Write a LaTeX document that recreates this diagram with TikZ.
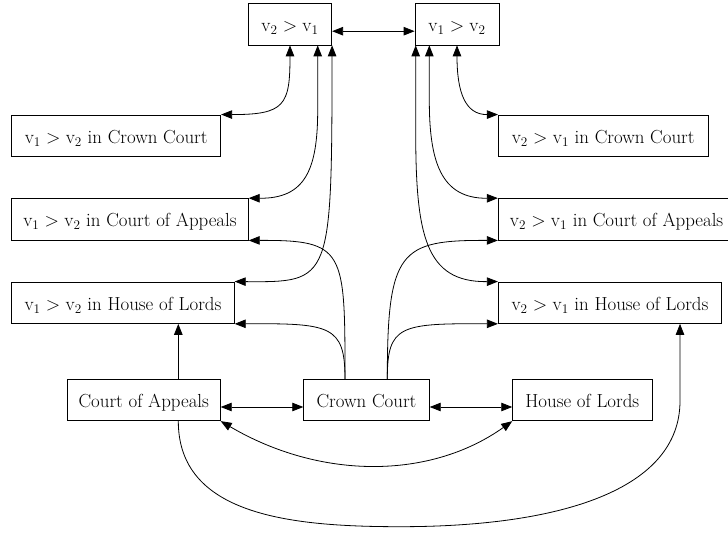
\RequirePackage{fix-cm}
\documentclass[tikz,border=0pt]{standalone}
\usetikzlibrary{arrows.meta}
\begin{document}
\tikzset{
  box/.style={draw, line width=0.8pt, minimum height=41.5pt, inner sep=0pt,
    text height=15pt, text depth=0pt, font=\fontsize{18.9}{22}\selectfont},
  conn/.style={line width=0.8pt},
  one/.style={conn, -{Triangle[length=11pt,width=8.5pt]}},
  two/.style={conn, {Triangle[length=11pt,width=8.5pt]}-{Triangle[length=11pt,width=8.5pt]}},
}
\begin{tikzpicture}[x=1pt,y=-1pt]
\useasboundingbox (0,0) rectangle (728,534);
% top
\node[box,minimum width=83.4pt] (t21) at (290,24.2) {$\mathrm{v}_2 > \mathrm{v}_1$};
\node[box,minimum width=84pt] (t12) at (457,24.2) {$\mathrm{v}_1 > \mathrm{v}_2$};
% left column
\node[box,minimum width=209pt] (lcc) at (116.2,135.7) {$\mathrm{v}_1 > \mathrm{v}_2$ in Crown Court};
\node[box,minimum width=236.6pt] (lca) at (130,219.3) {$\mathrm{v}_1 > \mathrm{v}_2$ in Court of Appeals};
\node[box,minimum width=222.6pt] (lhl) at (123,302.7) {$\mathrm{v}_1 > \mathrm{v}_2$ in House of Lords};
% right column
\node[box,minimum width=209.7pt] (rcc) at (603.2,135.7) {$\mathrm{v}_2 > \mathrm{v}_1$ in Crown Court};
\node[box,minimum width=236.7pt] (rca) at (616.6,219.3) {$\mathrm{v}_2 > \mathrm{v}_1$ in Court of Appeals};
\node[box,minimum width=223.4pt] (rhl) at (610,302.7) {$\mathrm{v}_2 > \mathrm{v}_1$ in House of Lords};
% bottom row
\node[box,minimum width=153pt] (coa) at (143.8,400) {Court of Appeals};
\node[box,minimum width=125.6pt] (crc) at (366.5,400) {Crown Court};
\node[box,minimum width=139.3pt] (hol) at (582.3,400) {House of Lords};

\coordinate (cu) at ([xshift=34.5pt]coa.north);
\coordinate (bmid) at (400,526.7);
\coordinate (rup) at ([xshift=70pt,yshift=-77pt]rhl.south);

% top connectors
\draw[two] ([yshift=-7pt]t21.east) -- ([yshift=-7pt]t12.west);
\draw[two] (lcc.north east) .. controls (285,114.7) and (290,105) .. (t21.south);
\draw[two] (lca.north east) .. controls (305,198.7) and (317.7,170) .. ([xshift=27.7pt,yshift=-64.5pt]t21.south)
  -- ([xshift=27.7pt]t21.south);
\draw[two] (lhl.north east) .. controls (331.7,282.3) .. (t21.south east);
\draw[two] (rcc.north west) .. controls (465,114.7) and (457,92) .. (t12.south);
\draw[two] (rca.north west) .. controls (440,198.7) and (429.3,160) .. ([xshift=-27.7pt,yshift=-54.5pt]t12.south)
  -- ([xshift=-27.7pt]t12.south);
\draw[two] (rhl.north west) .. controls (425,282.3) and (415.7,235) .. ([xshift=-41.3pt,yshift=-85pt]t12.south)
  -- ([xshift=-41.3pt]t12.south);
% from Crown Court
\draw[one] ([xshift=-21.5pt]crc.north) .. controls (345,250) and (345,240) .. (lca.south east);
\draw[one] ([xshift=-21.5pt]crc.north) .. controls (345,325) and (330,323.3) .. (lhl.south east);
\draw[one] ([xshift=20.8pt]crc.north) .. controls (387.3,250) and (400,240) .. (rca.south west);
\draw[one] ([xshift=20.8pt]crc.north) .. controls (387.3,325) and (400,323.3) .. (rhl.south west);
% from Court of Appeals
\draw[one] (cu) -- (cu |- lhl.south);
\draw[one] ([xshift=34.5pt]coa.south) .. controls (178.3,515) and (290,526.7) .. (bmid)
  .. controls (560,526.7) and (680,490) .. (rup) -- ([xshift=70pt]rhl.south);
% bottom row
\draw[two] ([yshift=-7pt]coa.east) -- ([yshift=-7pt]crc.west);
\draw[two] ([yshift=-7pt]crc.east) -- ([yshift=-7pt]hol.west);
\draw[two] (coa.south east) .. controls (320.3,479.7) and (430,479.7) .. (hol.south west);
\end{tikzpicture}
\end{document}
